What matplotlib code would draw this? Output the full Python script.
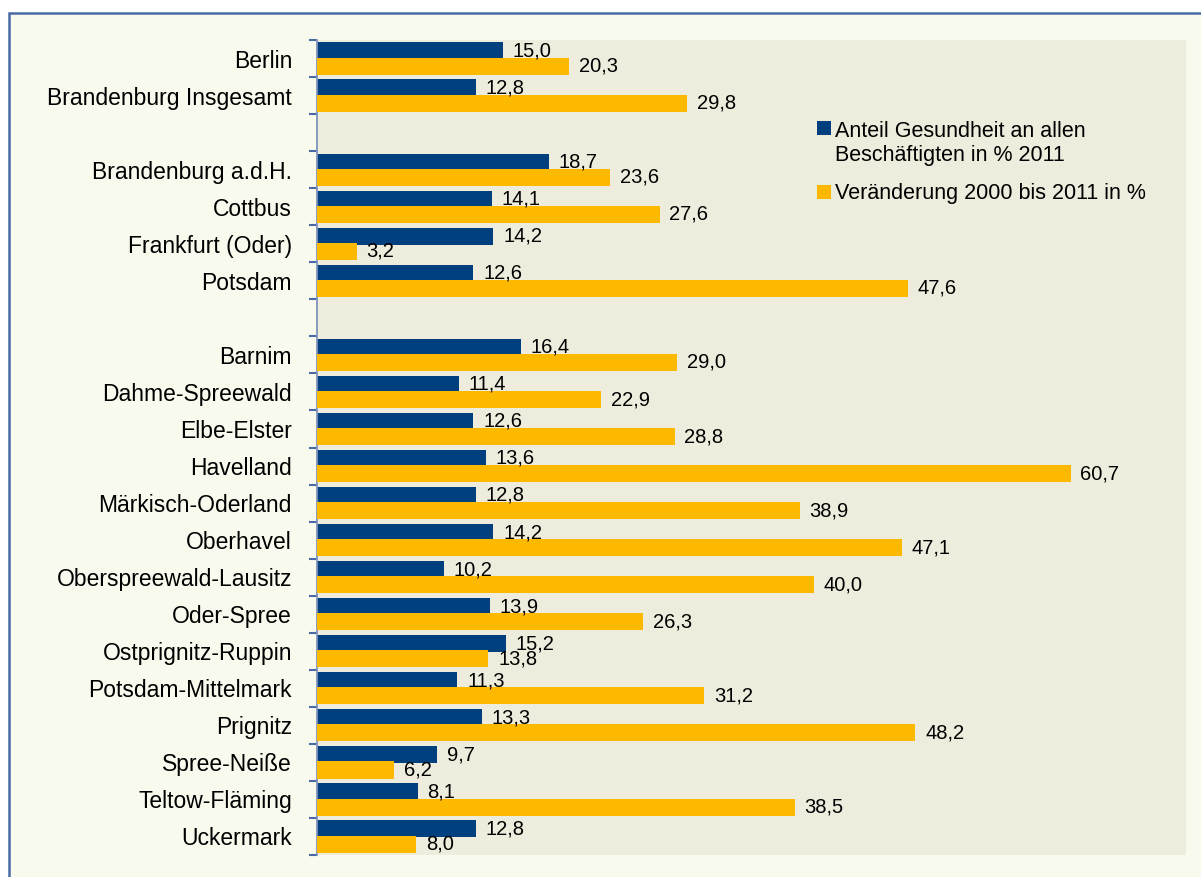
import numpy as np
import matplotlib
matplotlib.use('Agg')
import matplotlib.pyplot as plt
from matplotlib.patches import Rectangle

plt.rcParams['font.family'] = ['Liberation Sans', 'DejaVu Sans']

# data (empty names are the gaps between groups)
regions = ['Berlin', 'Brandenburg Insgesamt', '',
           'Brandenburg a.d.H.', 'Cottbus', 'Frankfurt (Oder)', 'Potsdam', '',
           'Barnim', 'Dahme-Spreewald', 'Elbe-Elster', 'Havelland',
           'Märkisch-Oderland', 'Oberhavel', 'Oberspreewald-Lausitz',
           'Oder-Spree', 'Ostprignitz-Ruppin', 'Potsdam-Mittelmark',
           'Prignitz', 'Spree-Neiße', 'Teltow-Fläming', 'Uckermark']
anteil_2011 = [15.0, 12.8, None,
               18.7, 14.1, 14.2, 12.6, None,
               16.4, 11.4, 12.6, 13.6, 12.8, 14.2, 10.2,
               13.9, 15.2, 11.3, 13.3, 9.7, 8.1, 12.8]
veraenderung = [20.3, 29.8, None,
                23.6, 27.6, 3.2, 47.6, None,
                29.0, 22.9, 28.8, 60.7, 38.9, 47.1, 40.0,
                26.3, 13.8, 31.2, 48.2, 6.2, 38.5, 8.0]
legend_labels = ['Anteil Gesundheit an allen\nBeschäftigten in % 2011',
                 'Veränderung 2000 bis 2011 in %']

BLUE = '#00407f'
ORANGE = '#fdb900'
W, H = 1201, 877


def px(x, y):
    return x / W, 1 - y / H


fig = plt.figure(figsize=(W / 100, H / 100), dpi=100, facecolor='white')
# outer frame, runs off the right and bottom edges
fig.patches.append(Rectangle(px(9, 900), 1.2, (900 - 13) / H,
                             transform=fig.transFigure, facecolor='#f9faee',
                             edgecolor='#4a6aa5', linewidth=1.8, zorder=-1))

ax = fig.add_axes([317 / W, 1 - 855 / H, (1186 - 317) / W, (855 - 40) / H])
ax.set_facecolor('#eeecdc')

y = np.arange(len(regions))
valid = [i for i, v in enumerate(anteil_2011) if v is not None]
a_vals = np.array([anteil_2011[i] for i in valid])
v_vals = np.array([veraenderung[i] for i in valid])
yv = y[valid]

off, h = 0.205, 0.46
b1 = ax.barh(yv - off, a_vals, height=h, color=BLUE, zorder=2)
b2 = ax.barh(yv + off, v_vals, height=h, color=ORANGE, zorder=3)

fmt = lambda vals: [f'{v:.1f}'.replace('.', ',') for v in vals]
ax.bar_label(b1, labels=fmt(a_vals), padding=7, fontsize=14.5, zorder=5)
ax.bar_label(b2, labels=fmt(v_vals), padding=7, fontsize=14.5, zorder=5)

ax.set_xlim(0, 70)
ax.set_ylim(len(regions) - 0.5, -0.5)
ax.set_yticks(y)
ax.set_yticklabels(regions, fontsize=16.5)
ax.set_yticks(np.arange(-0.5, len(regions)), minor=True)
ax.tick_params(axis='y', which='major', length=0, pad=18)
ax.tick_params(axis='y', which='minor', length=6, width=1.5, color='#4a6aa5')
ax.set_xticks([])
for s in ['top', 'right', 'bottom']:
    ax.spines[s].set_visible(False)
ax.spines['left'].set_color('#7f93bb')
ax.spines['left'].set_linewidth(1.3)

# legend
for (bx, by, col) in [(817, 135, BLUE), (817, 199, ORANGE)]:
    x0, y0 = px(bx, by)
    fig.patches.append(Rectangle((x0, y0), 14 / W, 14 / H,
                                 transform=fig.transFigure, facecolor=col,
                                 edgecolor='none', zorder=6))
lx, ly = px(835, 161)
fig.text(lx, ly, legend_labels[0], fontsize=15.5, va='baseline', ha='left',
         linespacing=1.2, zorder=7)
lx, ly = px(835, 199)
fig.text(lx, ly, legend_labels[1], fontsize=15.5, va='baseline', ha='left',
         zorder=7)

fig.savefig('out.png', dpi=100, facecolor=fig.get_facecolor())
